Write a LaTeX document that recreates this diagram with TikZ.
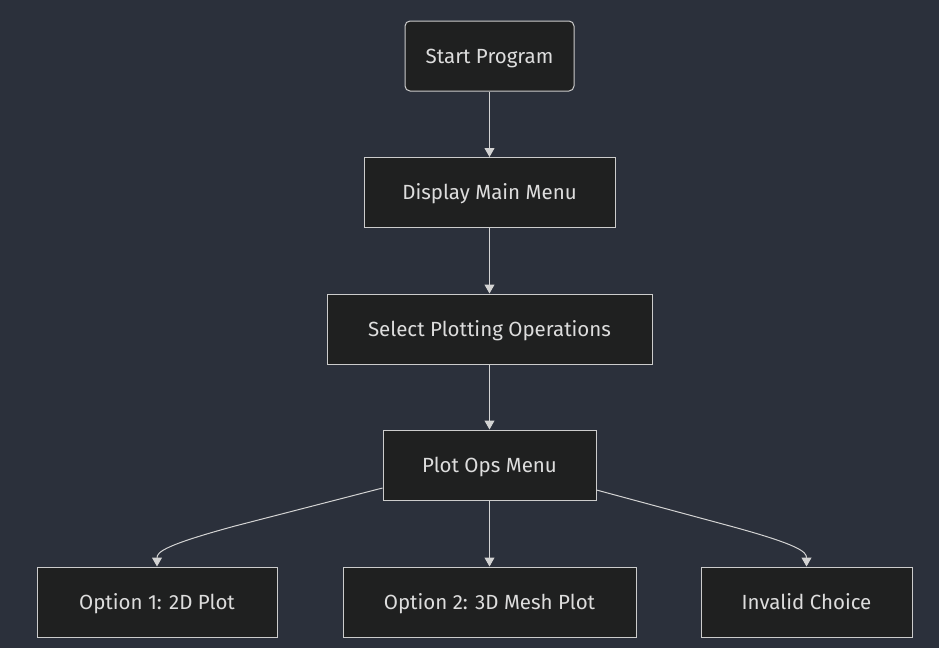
\documentclass[tikz,border=0pt]{standalone}
\usepackage{fontspec}
\setmainfont{Fira Sans}
\usetikzlibrary{arrows.meta,calc}
\definecolor{bg}{HTML}{2B303B}
\definecolor{nodefill}{HTML}{1F2020}
\definecolor{nodeline}{HTML}{CCCCCC}
\definecolor{txt}{HTML}{DDDDDD}
\definecolor{edge}{HTML}{D3D3D3}
\begin{document}
\begin{tikzpicture}[x=1pt,y=-1pt,
  box/.style={draw=nodeline,fill=nodefill,line width=1pt,text=txt,
    minimum height=70pt,inner sep=0pt,text height=14pt,text depth=0pt,
    font=\fontsize{20.5}{24}\selectfont},
  conn/.style={draw=edge,line width=1pt,-{Triangle[length=9pt,width=10pt]}}]
\fill[bg] (0,0) rectangle (939,648);
\useasboundingbox (0,0) rectangle (939,648);
\node[box,rounded corners=5pt,minimum width=169pt] (start) at (489.5,56) {Start Program};
\node[box,minimum width=251pt] (menu) at (489.5,192.5) {Display Main Menu};
\node[box,minimum width=325pt] (sel) at (489.5,329) {Select Plotting Operations};
\node[box,minimum width=213pt] (ops) at (489.5,465) {Plot Ops Menu};
\node[box,minimum width=240pt] (o1) at (157,602) {Option 1: 2D Plot};
\node[box,minimum width=293pt] (o2) at (489.5,602) {Option 2: 3D Mesh Plot};
\node[box,minimum width=211pt] (inv) at (806.5,602) {Invalid Choice};
\draw[conn] (start) -- (menu);
\draw[conn] (menu) -- (sel);
\draw[conn] (sel) -- (ops);
\draw[conn] (ops) -- (o2);
\coordinate (l1) at ($(ops.west)+(0,23)$);
\coordinate (r1) at ($(ops.east)+(0,25)$);
\draw[conn] (l1) -- (235,526) .. controls (165,545) and (157,552) .. (o1.north);
\draw[conn] (r1) -- (730,526) .. controls (800,545) and (806.5,552) .. (inv.north);
\end{tikzpicture}
\end{document}
